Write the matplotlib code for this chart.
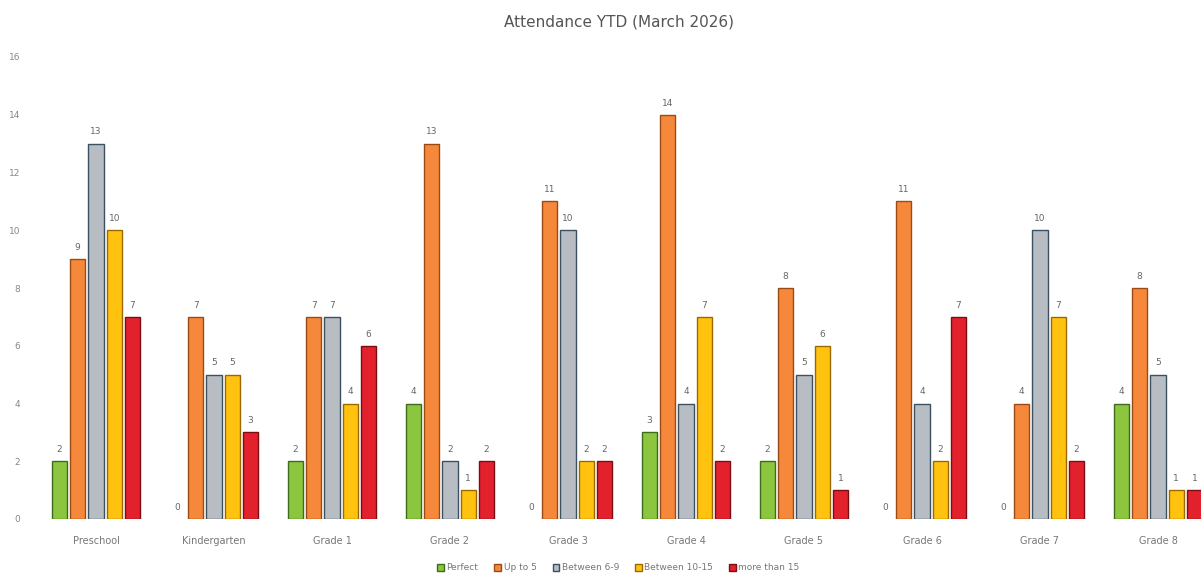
import matplotlib
matplotlib.use("Agg")
import matplotlib.pyplot as plt
import numpy as np

categories = ["Preschool", "Kindergarten", "Grade 1", "Grade 2", "Grade 3",
              "Grade 4", "Grade 5", "Grade 6", "Grade 7", "Grade 8"]
series_names = ["Perfect", "Up to 5", "Between 6-9", "Between 10-15", "more than 15"]
perfect = [2, 0, 2, 4, 0, 3, 2, 0, 0, 4]
up_to_5 = [9, 7, 7, 13, 11, 14, 8, 11, 4, 8]
between_6_9 = [13, 5, 7, 2, 10, 4, 5, 4, 10, 5]
between_10_15 = [10, 5, 4, 1, 2, 7, 6, 2, 7, 1]
more_than_15 = [7, 3, 6, 2, 2, 2, 1, 7, 2, 1]
yticks = [0, 2, 4, 6, 8, 10, 12, 14, 16]

series = [perfect, up_to_5, between_6_9, between_10_15, more_than_15]
colors = ["#8CC63F", "#F5883A", "#B8BDC4", "#FFC20E", "#E3212D"]
edges = ["#3E6B1E", "#9A4A14", "#3B5060", "#9A6A00", "#7A0E14"]

fig = plt.figure(figsize=(12.01, 5.78), dpi=100)
ax = fig.add_axes([37/1201, 59/578, 1180/1201, 462/578])

x = np.arange(len(categories))
step = 0.155
width = 0.132
for i, (vals, c, ec, name) in enumerate(zip(series, colors, edges, series_names)):
    pos = x + (i - 2) * step
    lws = [1.0 if v > 0 else 0 for v in vals]
    ax.bar(pos, vals, width, color=c, edgecolor=ec, linewidth=lws, label=name)
    for p, v in zip(pos, vals):
        ax.text(p, v + 0.25, str(v), ha="center", va="bottom", fontsize=6.5, color="#666666")

ax.set_xlim(-0.5, len(categories) - 0.5)
ax.set_ylim(0, 16)
ax.set_yticks(yticks)
ax.set_xticks(x)
ax.set_xticklabels(categories, fontsize=7, color="#777777")
ax.tick_params(axis="y", labelsize=6.5, labelcolor="#888888", length=0, pad=12)
ax.tick_params(axis="x", length=0, pad=12)
for s in ax.spines.values():
    s.set_visible(False)
ax.set_facecolor("none")

fig.text(0.515, 1 - 22/578, "Attendance YTD (March 2026)", ha="center", va="center",
         fontsize=11, color="#555555")

handles, labels = ax.get_legend_handles_labels()
fig.legend(handles, labels, loc="center", bbox_to_anchor=(0.515, 1 - 568/578), ncol=5,
           frameon=False, fontsize=6.5, handlelength=0.7, handleheight=0.9,
           handletextpad=0.3, columnspacing=1.8, labelcolor="#777777")

fig.savefig("out.png", dpi=100)
